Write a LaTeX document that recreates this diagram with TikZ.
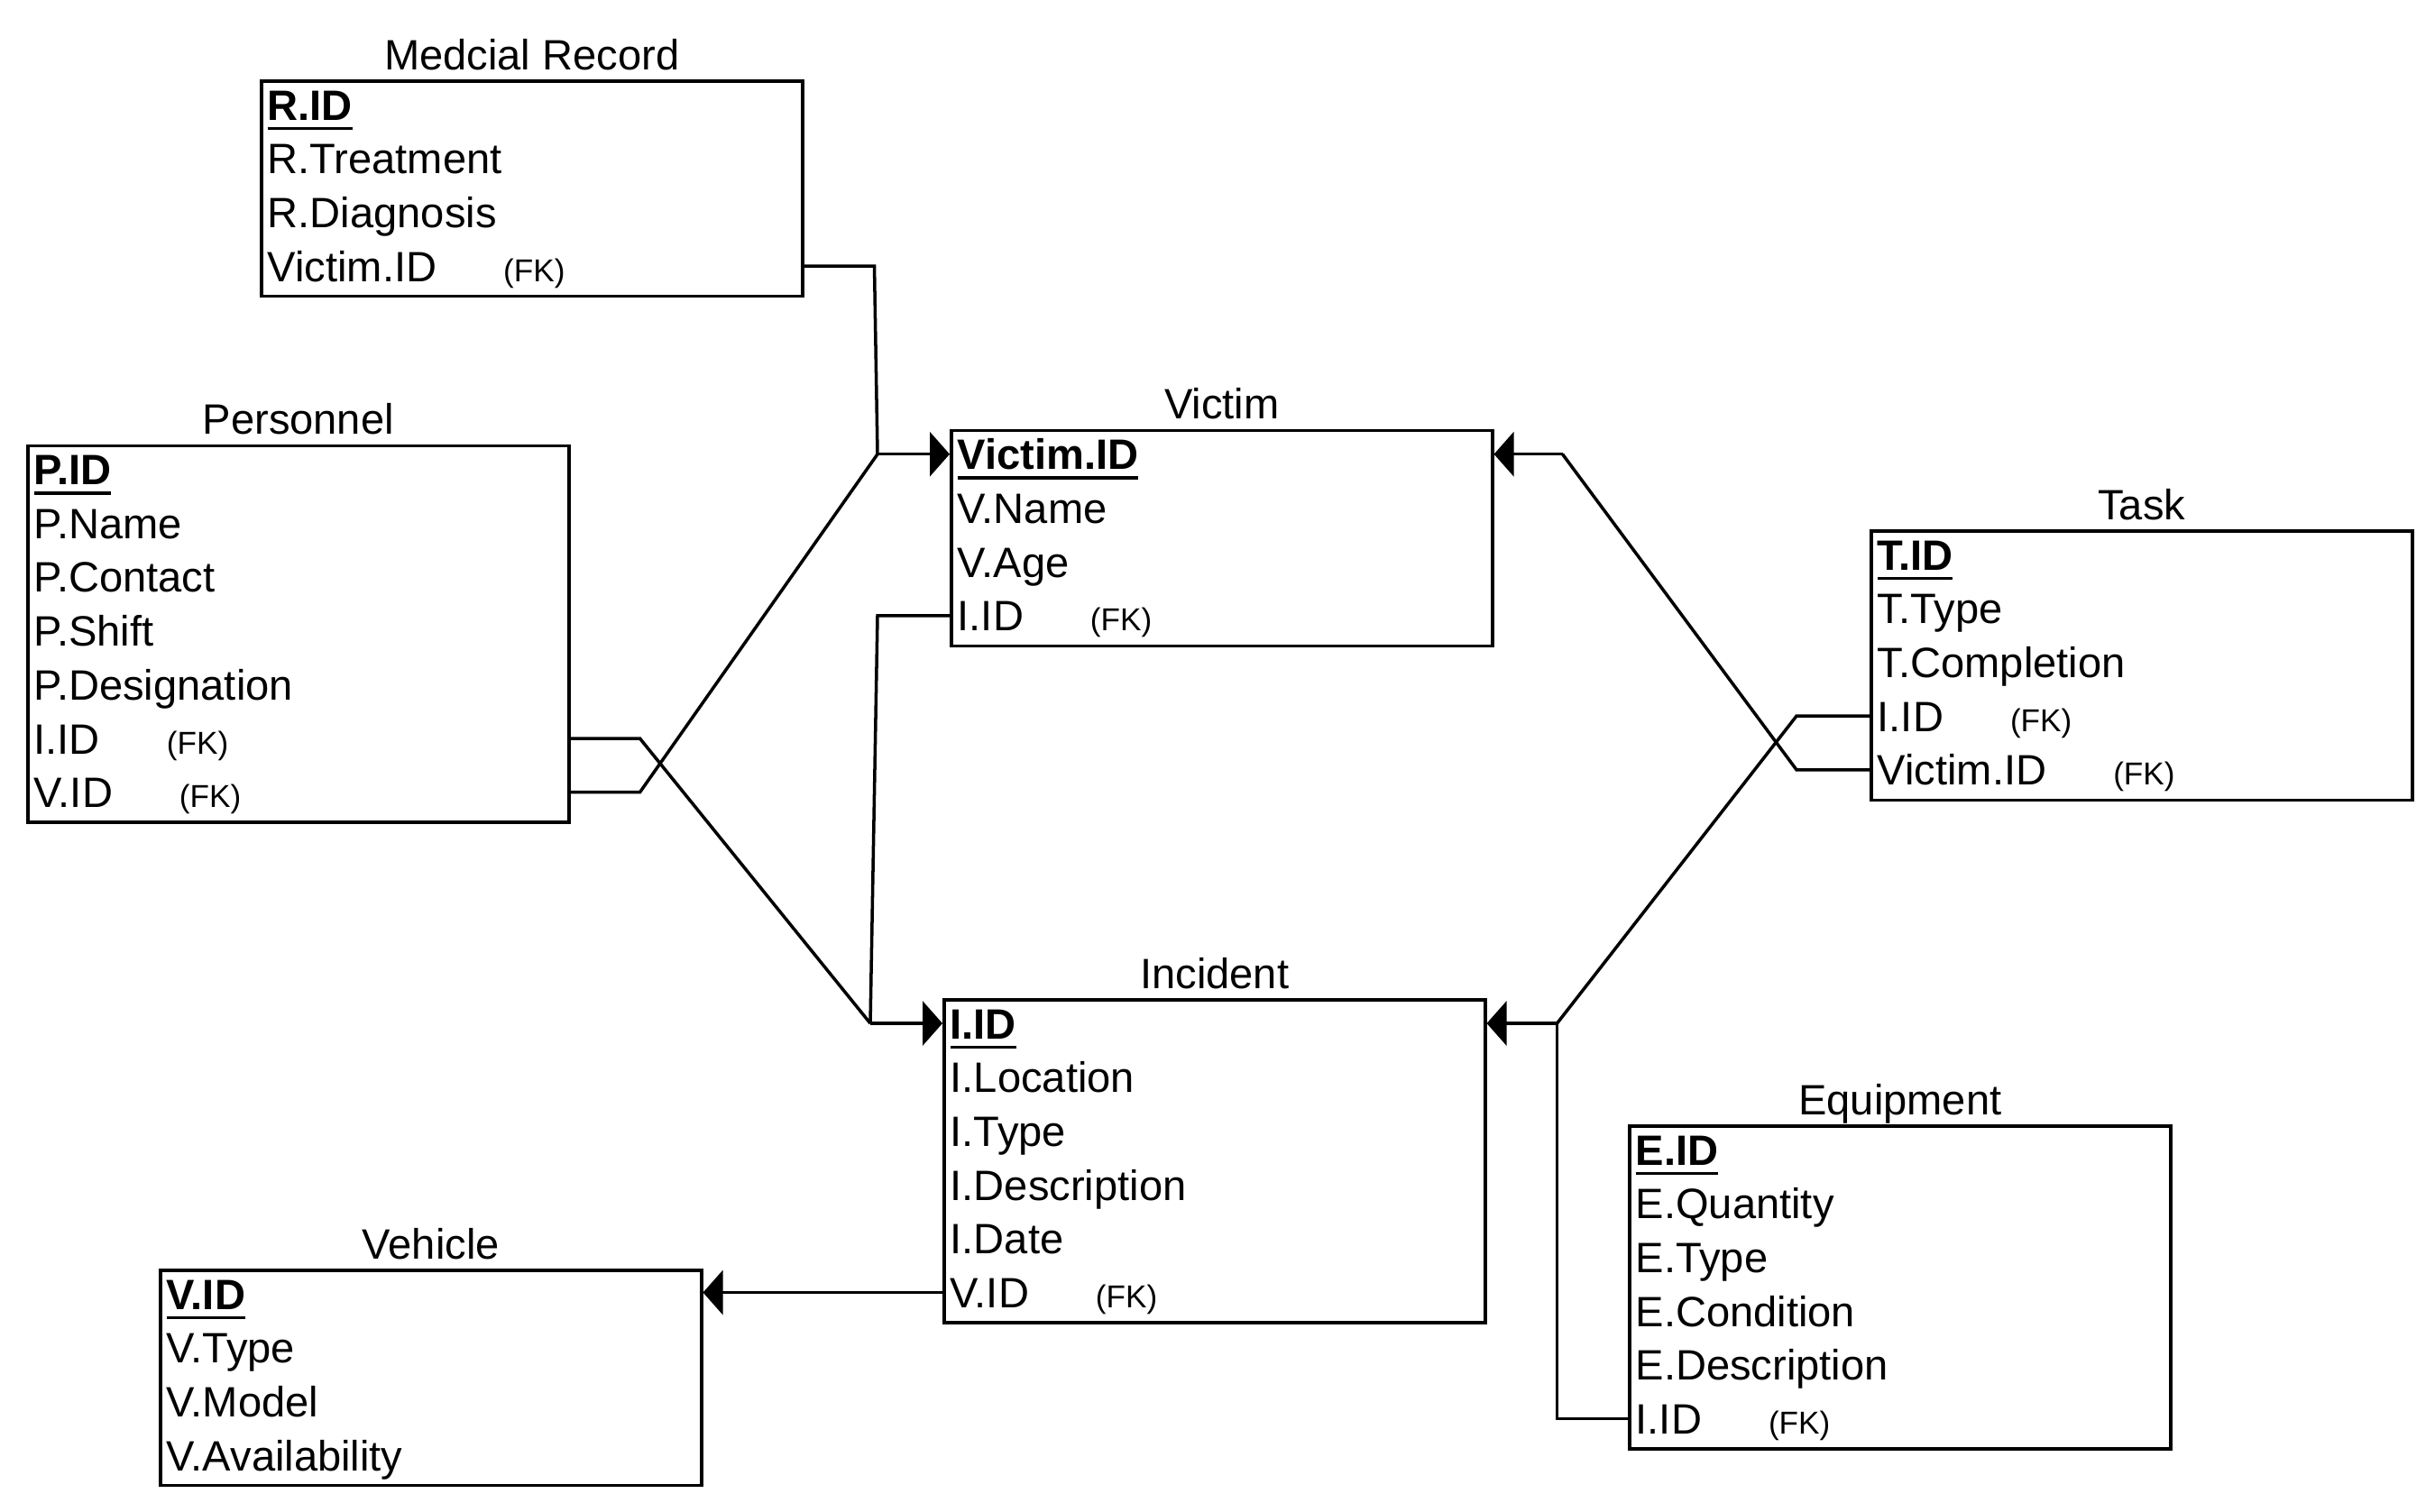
\documentclass[tikz,border=0pt]{standalone}
\usepackage{fontspec}
\setmainfont{Liberation Sans}
\usetikzlibrary{arrows.meta,calc,positioning}

\tikzset{
  caja/.style={draw, line width=1pt, inner sep=0pt, anchor=north west, minimum width=6cm},
  fila/.style={anchor=west, inner sep=0pt, text height=0.34cm, text depth=0cm, font=\fontsize{13.4}{16}\selectfont},
  titulo/.style={anchor=base, inner sep=0pt, font=\fontsize{13.4}{16}\selectfont},
  enlace/.style={line width=1pt},
  flecha/.style={enlace, -{Triangle[length=0.22cm, width=0.49cm]}}
}
\newlength{\anchoclave}
\newcommand{\fk}{\hspace{0.74cm}{\fontsize{10}{12}\selectfont (FK)}}
\newcommand{\clave}[1]{\settowidth{\anchoclave}{\textbf{#1}}\textbf{#1}\hspace{-\anchoclave}\rule[-0.11cm]{\anchoclave}{0.033cm}}
% nombre, x, y (hacia abajo), filas, titulo, campos
\newcommand{\entidad}[6]{%
  \node[caja, minimum height=#4*0.597cm] (#1) at (#2,-#3) {};
  \node[titulo] (#1-t) at ($(#1.north)+(0,0.11)$) {#5};
  \foreach \c [count=\i] in {#6}
    \node[fila] (#1-\i) at ({#2+0.08},{-#3-0.28-(\i-1)*0.597}) {\c};
}

\begin{document}
\begin{tikzpicture}
        \useasboundingbox (0,0) rectangle (27,-16.76);
        \entidad{mr}{2.88}{0.88}{4}{Medcial Record}{\clave{R.ID}, R.Treatment, R.Diagnosis, Victim.ID\fk}
        \entidad{pe}{0.29}{4.925}{7}{Personnel}{\clave{P.ID}, P.Name, P.Contact, P.Shift, P.Designation, I.ID\fk, V.ID\fk}
        \entidad{vi}{10.53}{4.757}{4}{Victim}{\clave{Victim.ID}, V.Name, V.Age, I.ID\fk}
        \entidad{ta}{20.73}{5.87}{5}{Task}{\clave{T.ID}, T.Type, T.Completion, I.ID\fk, Victim.ID\fk}
        \entidad{in}{10.45}{11.07}{6}{Incident}{\clave{I.ID}, I.Location, I.Type, I.Description, I.Date, V.ID\fk}
        \entidad{eq}{18.05}{12.47}{6}{Equipment}{\clave{E.ID}, E.Quantity, E.Type, E.Condition, E.Description, I.ID\fk}
        \entidad{ve}{1.76}{14.07}{4}{Vehicle}{\clave{V.ID}, V.Type, V.Model, V.Availability}
        % puntos de union
        \coordinate (jv) at ($(vi-1 -| vi.west)+(-0.8,0)$);
        \coordinate (ji) at ($(in-1 -| in.west)+(-0.8,0)$);
        \coordinate (jv2) at ($(vi-1 -| vi.east)+(0.76,0)$);
        \coordinate (ji2) at ($(in-1 -| in.east)+(0.78,0)$);
        % hacia Victim
        \draw[enlace] (mr-4 -| mr.east) -- ++(0.78,0) -- (jv);
        \draw[enlace] (pe-7 -| pe.east) -- ++(0.77,0) -- (jv);
        \draw[flecha] (jv) -- (vi-1 -| vi.west);
        \draw[enlace] (ta-5 -| ta.west) -- ++(-0.81,0) -- (jv2);
        \draw[flecha] (jv2) -- (vi-1 -| vi.east);
        % hacia Incident
        \draw[enlace] (pe-6 -| pe.east) -- ++(0.77,0) -- (ji);
        \draw[enlace] (vi-4 -| vi.west) -- ++(-0.8,0) -- (ji);
        \draw[flecha] (ji) -- (in-1 -| in.west);
        \draw[enlace] (ta-4 -| ta.west) -- ++(-0.81,0) -- (ji2);
        \draw[enlace] (eq-6 -| eq.west) -- (eq-6 -| ji2) -- (ji2);
        \draw[flecha] (ji2) -- (in-1 -| in.east);
        % hacia Vehicle
        \draw[flecha] (in-6 -| in.west) -- (in-6 -| ve.east);
\end{tikzpicture}
\end{document}
